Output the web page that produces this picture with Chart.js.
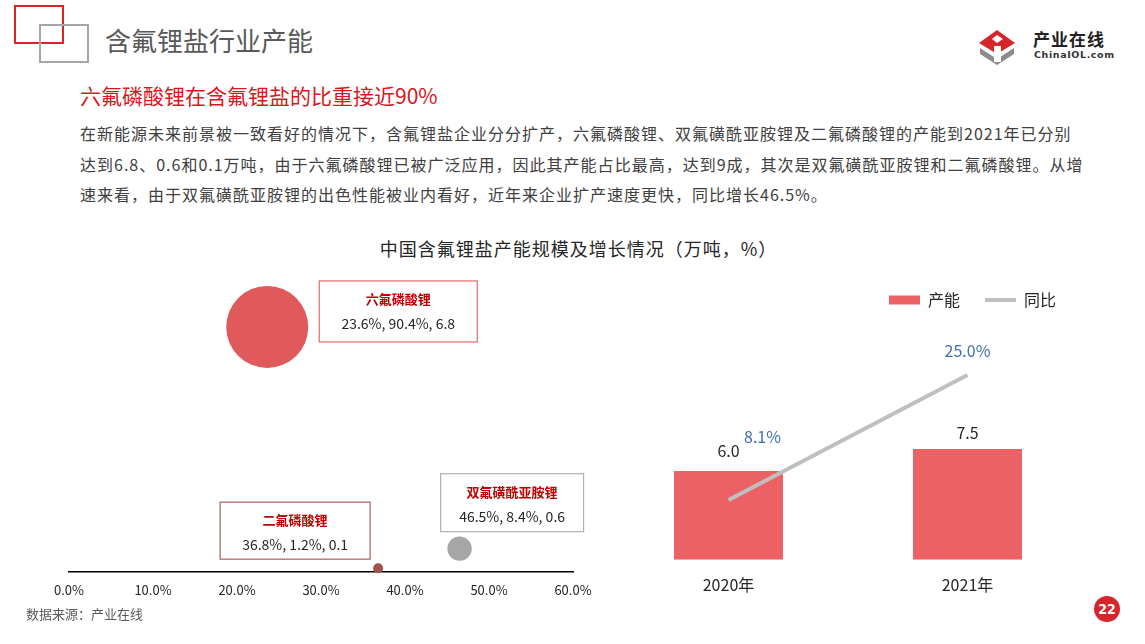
<!DOCTYPE html>
<html>
<head>
<meta charset="utf-8">
<script src="https://cdn.jsdelivr.net/npm/chart.js@4/dist/chart.umd.min.js"></script>
<style>
  body { margin: 0; background: #fff; font-family: "Noto Sans CJK SC", "Noto Sans", sans-serif; }
  #page { position: relative; width: 1145px; height: 644px; overflow: hidden; background: #fff; }
  .abs { position: absolute; white-space: nowrap; }
  #sqRed { left: 14px; top: 5px; width: 46px; height: 35px; border: 2.5px solid #D7262B; }
  #sqGrey { left: 39px; top: 24px; width: 46px; height: 35px; border: 2.5px solid #A6A6A6; }
  #title { left: 105px; top: 23px; font-size: 26px; line-height: 34px; color: #595959; }
  #subtitle { left: 80px; top: 81px; font-size: 21px; line-height: 28px; color: #D9161E; }
  #para { left: 80px; top: 118px; font-size: 16px; line-height: 30.5px; color: #404040; letter-spacing: 1px; }
  #chartTitle { left: 0; top: 236px; width: 1157px; text-align: center; font-size: 18px; line-height: 24px; color: #262626; letter-spacing: 1px; }
  #source { left: 26px; top: 606px; font-size: 13px; line-height: 16px; color: #595959; }
  #pageNo { left: 1094px; top: 596px; width: 26px; height: 26px; border-radius: 50%; background: #D7262B; color: #fff; font-size: 14px; line-height: 26px; text-align: center; font-family: "DejaVu Sans Condensed", "Liberation Sans Narrow", sans-serif; font-weight: bold; }
  #logoTxt { left: 1033px; top: 29px; font-size: 17px; line-height: 20px; font-weight: bold; color: #222; letter-spacing: 1px; }
  #logoSub { left: 1034px; top: 50px; font-size: 9.5px; line-height: 10px; font-weight: bold; color: #333; font-family: "DejaVu Sans", sans-serif; letter-spacing: 0.6px; }
  #bubbleWrap { position: absolute; left: 0; top: 260px; width: 614px; height: 360px; }
  #barWrap { position: absolute; left: 590px; top: 267px; width: 510px; height: 345px; }
</style>
</head>
<body>
<div id="page">
  <div class="abs" id="sqRed"></div>
  <div class="abs" id="sqGrey"></div>
  <div class="abs" id="title">含氟锂盐行业产能</div>
  <svg class="abs" style="left:975px;top:24px" width="45" height="45" viewBox="0 0 45 45">
    <polygon points="4,19 22,6 40,19 22,30" fill="#D7262B"/>
    <polygon points="17,15 22,11 28,15 22,19" fill="#fff"/>
    <polygon points="5,24 22,35 39,24 39,30 22,41 5,30" fill="#8C8C8C"/>
    <rect x="19" y="22" width="7" height="16" fill="#fff"/>
  </svg>
  <div class="abs" id="logoTxt">产业在线</div>
  <div class="abs" id="logoSub">ChinaIOL.com</div>
  <div class="abs" id="subtitle">六氟磷酸锂在含氟锂盐的比重接近90%</div>
  <div class="abs" id="para">在新能源未来前景被一致看好的情况下，含氟锂盐企业分分扩产，六氟磷酸锂、双氟磺酰亚胺锂及二氟磷酸锂的产能到2021年已分别<br>达到6.8、0.6和0.1万吨，由于六氟磷酸锂已被广泛应用，因此其产能占比最高，达到9成，其次是双氟磺酰亚胺锂和二氟磷酸锂。从增<br>速来看，由于双氟磺酰亚胺锂的出色性能被业内看好，近年来企业扩产速度更快，同比增长46.5%。</div>
  <div class="abs" id="chartTitle">中国含氟锂盐产能规模及增长情况（万吨，%）</div>
  <div id="bubbleWrap"><canvas id="bubble"></canvas></div>
  <div id="barWrap"><canvas id="bar"></canvas></div>
  <div class="abs" id="source">数据来源：产业在线</div>
  <div class="abs" id="pageNo">22</div>
</div>
<script>
// 左图：各含氟锂盐（增速 / 占比 / 产能）
const saltNames = ['六氟磷酸锂', '双氟磺酰亚胺锂', '二氟磷酸锂']
const saltGrowth = [23.6, 46.5, 36.8]   // 同比增速 %
const saltShare = [90.4, 8.4, 1.2]      // 占比 %
const saltCapacity = [6.8, 0.6, 0.1]    // 产能 万吨
const growthTicks = [0, 10, 20, 30, 40, 50, 60]

// 右图：产能规模及同比
const years = ['2020年', '2021年']
const capacity = [6.0, 7.5]
const yoy = [8.1, 25.0]

const FONT = '"Noto Sans CJK SC", "Noto Sans", sans-serif'
const bubbleColors = ['#E05A5C', '#A6A6A6', '#A0524F']
// 标注框（相对气泡中心的位置）
const callouts = [
  { dx: 52, dy: -46, w: 158, h: 61, border: '#E06A6A' },
  { dx: -19, dy: -75, w: 143, h: 58, border: '#B0B0B0' },
  { dx: -158, dy: -66, w: 150, h: 57, border: '#A65D5D' }
]

const calloutPlugin = {
  id: 'callouts',
  afterDatasetsDraw(chart) {
    const ctx = chart.ctx
    const pts = chart.getDatasetMeta(0).data
    ctx.save()
    pts.forEach((pt, i) => {
      const c = callouts[i]
      const left = pt.x + c.dx
      const top = pt.y + c.dy
      ctx.fillStyle = '#fff'
      ctx.fillRect(left, top, c.w, c.h)
      ctx.strokeStyle = c.border
      ctx.lineWidth = 1.2
      ctx.strokeRect(left, top, c.w, c.h)
      ctx.textAlign = 'center'
      ctx.textBaseline = 'middle'
      ctx.fillStyle = '#C00000'
      ctx.font = 'bold 13px ' + FONT
      ctx.fillText(saltNames[i], left + c.w / 2, top + 18)
      ctx.fillStyle = '#262626'
      ctx.font = '14px ' + FONT
      const txt = saltGrowth[i].toFixed(1) + '%, ' + saltShare[i].toFixed(1) + '%, ' + saltCapacity[i].toFixed(1)
      ctx.fillText(txt, left + c.w / 2, top + 43)
    })
    ctx.restore()
  }
}

new Chart(document.getElementById('bubble'), {
  type: 'bubble',
  data: {
    datasets: [{
      data: saltNames.map((n, i) => ({
        x: saltGrowth[i],
        y: saltShare[i],
        r: 41 * Math.sqrt(saltCapacity[i] / saltCapacity[0])
      })),
      backgroundColor: bubbleColors,
      borderWidth: 0,
      clip: false
    }]
  },
  options: {
    responsive: true,
    maintainAspectRatio: false,
    animation: false,
    events: [],
    layout: { padding: { left: 69, right: 14, top: 39, bottom: 11 } },
    plugins: { legend: { display: false }, tooltip: { enabled: false } },
    scales: {
      x: {
        type: 'linear',
        min: growthTicks[0],
        max: growthTicks[growthTicks.length - 1],
        afterBuildTicks: axis => { axis.ticks = growthTicks.map(v => ({ value: v })) },
        grid: { display: false, drawTicks: false },
        border: { display: true, color: '#000', width: 1.5 },
        ticks: {
          padding: 11,
          color: '#262626',
          font: { family: FONT, size: 13 },
          callback: v => Number(v).toFixed(1) + '%'
        }
      },
      y: { display: false, min: 0, max: 100 }
    }
  },
  plugins: [calloutPlugin]
})

const barLabelPlugin = {
  id: 'barLabels',
  afterLayout(chart) {
    // 图例整体略向左
    chart.legend.left -= 6
    chart.legend.right -= 6
  },
  afterDatasetsDraw(chart) {
    const ctx = chart.ctx
    const bars = chart.getDatasetMeta(0).data
    const pts = chart.getDatasetMeta(1).data
    ctx.save()
    ctx.textAlign = 'center'
    ctx.textBaseline = 'middle'
    ctx.font = '16px ' + FONT
    ctx.fillStyle = '#262626'
    bars.forEach((b, i) => {
      ctx.fillText(capacity[i].toFixed(1), b.x, b.y - (i === 0 ? 20 : 16))
    })
    ctx.fillStyle = '#3E6FB0'
    pts.forEach((p, i) => {
      const dx = i === 0 ? 34 : 0
      const dy = i === 0 ? -63 : -24
      ctx.fillText(yoy[i].toFixed(1) + '%', p.x + dx, p.y + dy)
    })
    ctx.restore()
  }
}

new Chart(document.getElementById('bar'), {
  type: 'bar',
  data: {
    labels: years,
    datasets: [{
      label: '产能',
      data: capacity,
      backgroundColor: '#EC6164',
      borderWidth: 0,
      barPercentage: 0.456,
      categoryPercentage: 1,
      yAxisID: 'y',
      order: 2
    }, {
      type: 'line',
      label: '同比',
      data: yoy,
      borderColor: '#BFBFBF',
      backgroundColor: '#BFBFBF',
      borderWidth: 4,
      pointRadius: 0,
      pointStyle: 'line',
      yAxisID: 'y1',
      order: 1
    }]
  },
  options: {
    responsive: true,
    maintainAspectRatio: false,
    animation: false,
    events: [],
    layout: { padding: { left: 19, right: 13, top: 0, bottom: 1 } },
    plugins: {
      tooltip: { enabled: false },
      legend: {
        position: 'top',
        align: 'end',
        labels: {
          usePointStyle: true,
          pointStyleWidth: 31,
          boxHeight: 9,
          padding: 25,
          color: '#262626',
          font: { family: FONT, size: 16 },
          sort: (a, b) => a.datasetIndex - b.datasetIndex,
          generateLabels: chart => chart.data.datasets.map((ds, i) => ({
            text: ds.label,
            datasetIndex: i,
            fillStyle: ds.backgroundColor,
            strokeStyle: ds.type === 'line' ? ds.borderColor : ds.backgroundColor,
            lineWidth: ds.type === 'line' ? 4 : 0,
            pointStyle: ds.type === 'line' ? 'line' : 'rect',
            fontColor: '#262626',
            hidden: false
          }))
        }
      }
    },
    scales: {
      x: {
        grid: { display: false, drawTicks: false },
        border: { display: false },
        ticks: { padding: 16, color: '#262626', font: { family: FONT, size: 16 } }
      },
      y: { display: false, min: 0, max: 16.35 },
      y1: { display: false, min: 0, max: 32.7, position: 'right' }
    }
  },
  plugins: [barLabelPlugin]
})
</script>
</body>
</html>
